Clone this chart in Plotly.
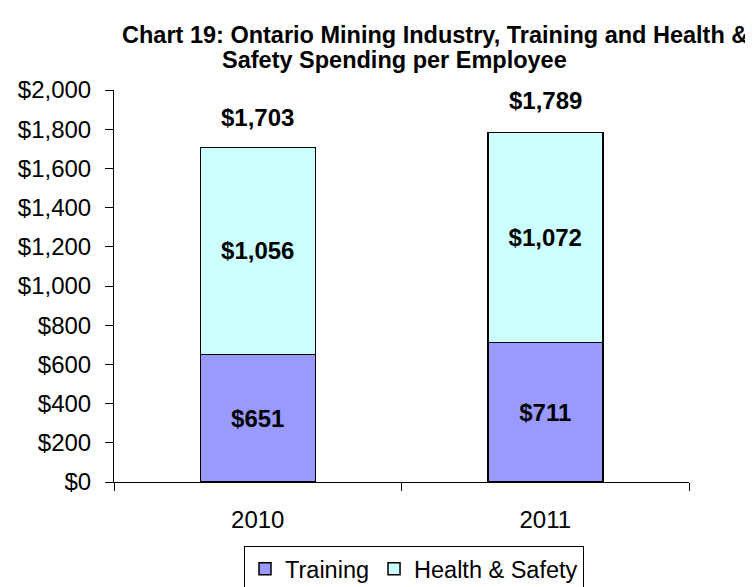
import plotly.graph_objects as go

# chart data
years = ["2010", "2011"]
training = [651, 711]
health_safety = [1056, 1072]
totals = [1703, 1789]
y_ticks = [0, 200, 400, 600, 800, 1000, 1200, 1400, 1600, 1800, 2000]

FONT = "Liberation Sans, Arial, sans-serif"
x_pos = list(range(len(years)))

# the page body adds an 8px margin around the figure
BODY = 8
W, H = 753 - BODY, 587 - BODY
# plot area as seen in the screenshot
plot_left, plot_right, plot_top, plot_bottom = 114, 689, 90, 482

fig = go.Figure()

fig.add_trace(go.Bar(
    x=x_pos, y=training, name="Training", width=0.4,
    marker=dict(color="#9999FF", line=dict(color="#000000", width=1.5)),
    text=[f"<b>${v:,}</b>" for v in training],
    textposition="inside", insidetextanchor="middle",
    textfont=dict(family=FONT, size=24, color="black"),
))

fig.add_trace(go.Bar(
    x=x_pos, y=health_safety, name="Health & Safety", width=0.4,
    marker=dict(color="#CCFFFF", line=dict(color="#000000", width=1.5)),
    text=[f"<b>${v:,}</b>" for v in health_safety],
    textposition="inside", insidetextanchor="middle",
    textfont=dict(family=FONT, size=24, color="black"),
))

# stacked totals above each bar
for xp, tot in zip(x_pos, totals):
    fig.add_annotation(
        x=xp, y=tot, xref="x", yref="y",
        text=f"<b>${tot:,}</b>", showarrow=False,
        yanchor="bottom", yshift=15,
        font=dict(family=FONT, size=24, color="black"),
    )

# two-line title, each line centred as in the original
title_lines = [
    ("Chart 19: Ontario Mining Industry, Training and Health &", 435, 35),
    ("Safety Spending per Employee", 394, 60),
]
for txt, px, py in title_lines:
    fig.add_annotation(
        x=(px - plot_left) / (plot_right - plot_left),
        y=(plot_bottom - py) / (plot_bottom - plot_top),
        xref="paper", yref="paper", text=f"<b>{txt}</b>",
        showarrow=False, xanchor="center", yanchor="middle",
        font=dict(family=FONT, size=23.5, color="black"),
    )

fig.update_layout(
    barmode="stack",
    width=W, height=H,
    margin=dict(l=plot_left - BODY, r=W - (plot_right - BODY),
                t=plot_top - BODY, b=H - (plot_bottom - BODY), autoexpand=False),
    plot_bgcolor="white", paper_bgcolor="white",
    font=dict(family=FONT, size=24, color="black"),
    showlegend=True,
    legend=dict(
        orientation="h", x=(414 - plot_left) / (plot_right - plot_left),
        xanchor="center", y=(plot_bottom - 546) / (plot_bottom - plot_top), yanchor="top",
        bordercolor="#000000", borderwidth=1,
        font=dict(family=FONT, size=23.5, color="black"),
        traceorder="normal",
    ),
    xaxis=dict(
        range=[-0.5, len(years) - 0.5], tickvals=x_pos, ticktext=years,
        ticks="", showline=True, linecolor="black", linewidth=1,
        showgrid=False, zeroline=False, ticklabelstandoff=16, automargin=False,
        tickfont=dict(size=24),
        minor=dict(tickvals=[-0.5, 0.5, 1.5], ticks="outside", ticklen=8,
                   tickcolor="black", showgrid=False),
    ),
    yaxis=dict(
        range=[0, 2000], tickvals=y_ticks,
        ticktext=[f"${v:,}" for v in y_ticks],
        ticks="outside", ticklen=8, tickcolor="black",
        showline=True, linecolor="black", linewidth=1,
        showgrid=False, zeroline=False, ticklabelstandoff=9, automargin=False,
        tickfont=dict(size=24),
    ),
)

fig.write_html("out.html")
